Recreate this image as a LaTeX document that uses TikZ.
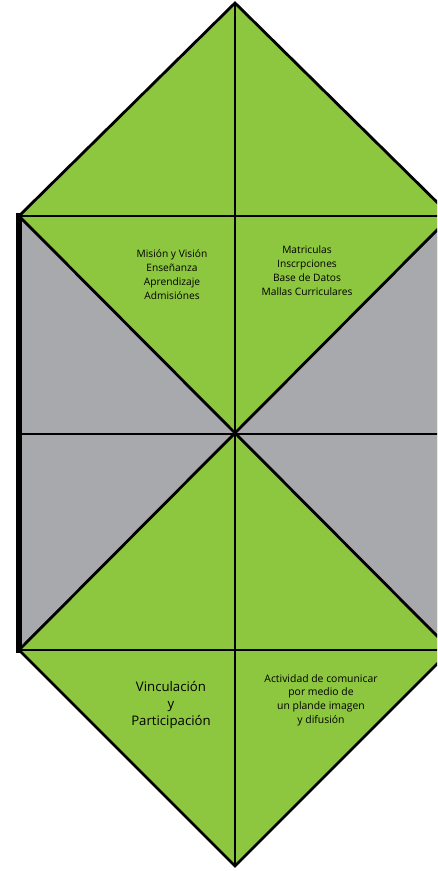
\documentclass[tikz,border=0pt]{standalone}
\usepackage{fontspec}
\setmainfont{Open Sans}
\definecolor{leaf}{HTML}{8DC63F}
\definecolor{slate}{HTML}{A7A9AC}
\begin{document}
\begin{tikzpicture}[x=1pt,y=-1pt,
  edge/.style={line width=2.8pt,line join=miter},
  thick edge/.style={line width=5.5pt},
  smalltxt/.style={align=center,font=\fontsize{10.2}{14}\selectfont,inner sep=0pt},
  bigtxt/.style={align=center,font=\fontsize{13.2}{17}\selectfont,inner sep=0pt}]
\useasboundingbox (0,0) rectangle (437,871);
\clip (0,0) rectangle (437,871);
\coordinate (T) at (235,3);
\coordinate (B) at (235,866);
\coordinate (C) at (235,434);
\coordinate (TL) at (19,216);
\coordinate (TR) at (451,216);
\coordinate (BL) at (19,650);
\coordinate (BR) at (451,650);
\coordinate (ML) at (19,434);
\coordinate (MR) at (451,434);
% fills
\fill[leaf] (T) -- (TR) -- (BR) -- (B) -- (BL) -- (TL) -- cycle;
\fill[slate] (TL) -- (C) -- (BL) -- cycle;
\fill[slate] (TR) -- (C) -- (BR) -- cycle;
% lines
\draw[edge] (TL) -- (T) -- (TR);
\draw[edge] (BL) -- (B) -- (BR);
\draw[edge] (TL) -- (TR);
\draw[edge] (ML) -- (MR);
\draw[edge] (BL) -- (BR);
\draw[edge] (T) -- (B);
\draw[edge] (TL) -- (BR);
\draw[edge] (TR) -- (BL);
\draw[edge] (TR) -- (BR);
\draw[thick edge] (19,213) -- (19,653);
% texts
\node[smalltxt] (t1) at (172,275) {Misión y Visión\\Enseñanza\\Aprendizaje\\Admisiónes};
\node[smalltxt] (t2) at (307,271) {Matriculas\\Inscrpciones\\Base de Datos\\Mallas Curriculares};
\node[bigtxt] (t3) at (171,705) {Vinculación\\y\\Participación};
\node[smalltxt,font=\fontsize{10.4}{13.7}\selectfont] (t4) at (321,700) {Actividad de comunicar\\por medio de\\un plande imagen\\y difusión};
\end{tikzpicture}
\end{document}
